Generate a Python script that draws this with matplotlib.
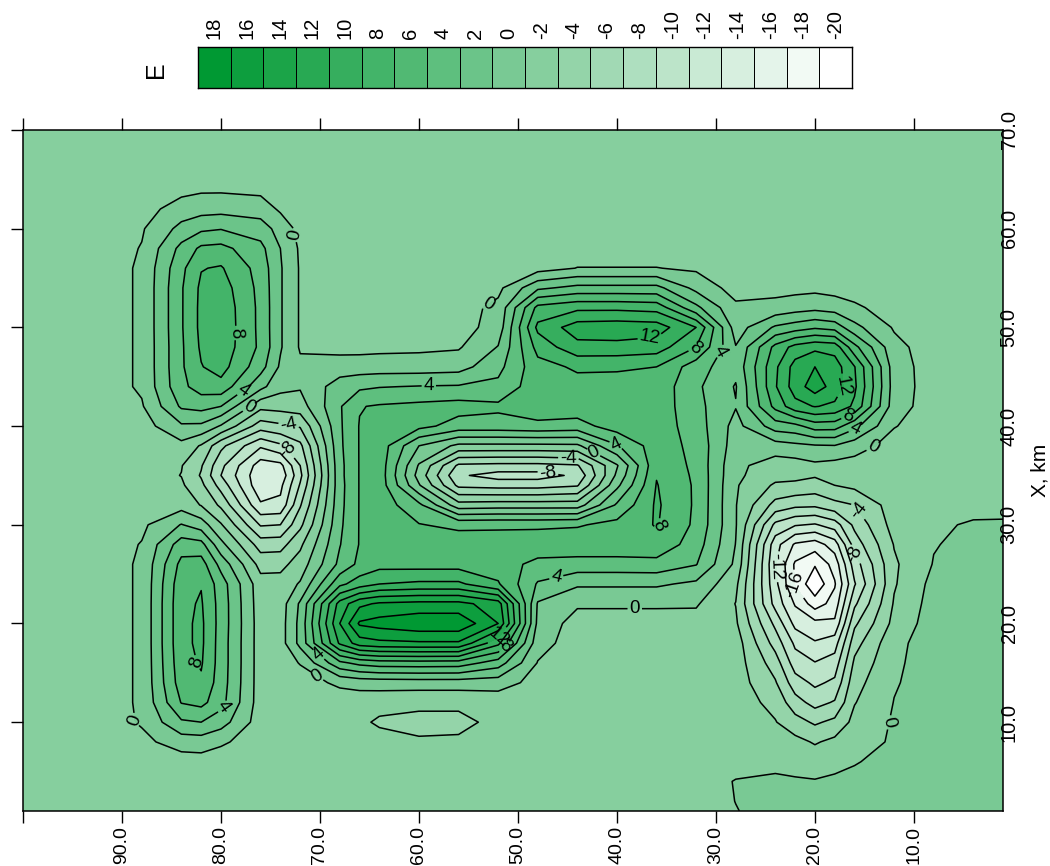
import matplotlib
matplotlib.use("Agg")
import matplotlib.pyplot as plt
import numpy as np
from matplotlib.colors import LinearSegmentedColormap

plt.rcParams['font.family'] = ['Liberation Sans', 'DejaVu Sans']

# grid positions, km
y_km = [100, 96, 92, 88, 84, 82, 80, 76, 72, 68, 64, 60, 56, 52, 48, 44, 40, 36, 32, 28, 24, 20, 16, 12, 8, 4, 1]
x_km = [70, 66, 64, 62, 60, 58, 56, 54, 52, 50, 48, 46, 44, 42, 40, 38, 36, 35, 34, 32, 30, 28, 26, 24, 22, 20, 18, 16, 14, 12, 10, 8, 6, 4, 2, 1]

# E values, one row per x_km, one column per y_km
e_grid = [
    [-1, -1, -1, -1, -1, -1, -1, -1, -1, -1, -1, -1, -1, -1, -1, -1, -1, -1, -1, -1, -1, -1, -1, -1, -1, -1, -1],
    [-1, -1, -1, -1, -1, -1, -1, -1, -1, -1, -1, -1, -1, -1, -1, -1, -1, -1, -1, -1, -1, -1, -1, -1, -1, -1, -1],
    [-1, -1, -1, -1, -.6, -.3, -.3, -.5, -1, -1, -1, -1, -1, -1, -1, -1, -1, -1, -1, -1, -1, -1, -1, -1, -1, -1, -1],
    [-1, -1, -1, -.8, .9, 1.2, 1.3, 1, -1, -1, -1, -1, -1, -1, -1, -1, -1, -1, -1, -1, -1, -1, -1, -1, -1, -1, -1],
    [-1, -1, -1, -.2, 2.6, 3.6, 3.9, 3, -.6, -1, -1, -1, -1, -1, -1, -1, -1, -1, -1, -1, -1, -1, -1, -1, -1, -1, -1],
    [-1, -1, -1, .1, 4.6, 6.4, 6.6, 4.6, -.3, -1, -1, -1, -1, -1, -1, -1, -1, -1, -1, -1, -1, -1, -1, -1, -1, -1, -1],
    [-1, -1, -1, .3, 5.5, 7.9, 8.2, 5.2, -.2, -1, -1, -1, -1, -1, -.8, .05, .05, .05, -.3, -1, -1, -1, -1, -1, -1, -1, -1],
    [-1, -1, -1, .3, 5.8, 8.4, 9, 5.4, -.2, -1, -1, -1, -.9, -.5, 3.6, 4.6, 4.6, 4.6, 1.4, -.8, -.6, -.5, -.8, -1, -1, -1, -1],
    [-1, -1, -1, .3, 5.8, 8.5, 9.4, 5.5, -.2, -1, -1, -.9, -.8, .5, 8.6, 9.5, 9.5, 9.2, 4.5, .4, .6, 1.4, .3, -.8, -1, -1, -1],
    [-1, -1, -1, .3, 5.8, 8.5, 9.5, 5.5, -.2, -1, -.9, -.9, -.8, .8, 10.5, 13, 13.2, 13, 10, 1, 4.3, 5.7, 2.6, -.2, -1, -1, -1],
    [-1, -1, -1, .3, 5.7, 8.3, 9.3, 5.6, -.2, -.6, -.5, -.4, -.2, 2.1, 8.7, 11.4, 11.4, 11, 8, 2.1, 8.6, 11.5, 6.6, .6, -1, -1, -1],
    [-1, -1, -1, .3, 5.7, 7.9, 8.8, 4.8, .4, .9, 1, 1, 1.2, 3.4, 7.3, 8.3, 8.2, 8, 4.9, 2.6, 9.6, 14, 10.1, 1, -1, -1, -1],
    [-1, -1, -1, .3, 5.5, 6.9, 7.3, 2.6, .2, 3, 3.9, 4.1, 4.2, 4.5, 7.2, 7.3, 7.4, 7.3, 4.4, 1.85, 9.8, 15, 10.4, 1.1, -1, -1, -1],
    [-1, -1, -1, -.2, 4.3, 4.7, 4, -1.4, -.9, 3.8, 6.2, 6.5, 6.8, 6.4, 7.2, 7.2, 7.2, 7.2, 4.6, 2.1, 8.6, 12.1, 9.6, .9, -1, -1, -1],
    [-1, -1, -1, -.9, 1.7, 1.6, -.2, -5, -3.8, 3.7, 7.2, 6.6, 5.2, 5.2, 5.5, 5.2, 7, 7.1, 5, 1.3, 5, 7, 4.6, .1, -1, -1, -1],
    [-1, -1, -1, -1, -.6, -2.2, -5.5, -9.7, -6.5, 3.6, 7.2, 2, -.5, -.5, -.5, -.4, 3.8, 7.1, 5.4, 1, 1.1, 1.8, .9, -.8, -1, -1, -1],
    [-1, -1, -1, -1, -1.9, -3.8, -7.5, -13, -8, 3.4, 7.2, -.2, -6.4, -6.6, -6.6, -6.2, -.2, 7.6, 5.5, .5, -1, -.4, -.8, -1, -1, -1, -1],
    [-1, -1, -1, -1, -2.05, -4.2, -8, -13.5, -8.5, 3.4, 7.2, -.8, -7.7, -8.8, -8.8, -7.6, .4, 7.9, 5.6, .4, -1.3, -1.8, -1.1, -1, -1, -1, -1],
    [-1, -1, -1, -1, -1.7, -3.5, -6.8, -13.5, -7.8, 3.3, 7.2, .2, -6.5, -6.8, -6.8, -6.2, 1.5, 8.1, 5.7, .2, -2.3, -2.8, -1.5, -1, -1, -1, -1],
    [-1, -1, -1, -1, -.8, -2.1, -4.4, -11.7, -6.2, 3.4, 7.2, 4.5, -1.2, -1, -1, -1, 4.3, 8.3, 5.7, .1, -4.7, -5.6, -4, -1, -1, -.6, -.5],
    [-1, -1, -1, -.4, 2.1, 1, -1.8, -8.2, -4.5, 3.6, 7.2, 6.1, 5.5, 5.6, 5.6, 5.8, 6.6, 8.15, 5.6, .15, -8.5, -10.2, -5.5, -1.2, -.3, .2, .2],
    [-1, -1, -1, .1, 5, 4.7, .6, -4.9, -2.4, 3.9, 7.2, 7.2, 7.2, 7.1, 7.3, 7.3, 7.3, 7.4, 5, -.05, -11.2, -15, -7.1, -1.9, -.1, .5, .6],
    [-1, -1, -1, .3, 6.6, 6.9, 3.3, -2.7, -1.1, 4.5, 7.3, 7.2, 7.2, 7, 5.4, 5.2, 5.2, 5.3, 4.1, -.4, -11.8, -17.8, -9, -2.3, .1, .7, .7],
    [-1, -1, -1, .3, 7.3, 7.9, 5, -1.2, .2, 7.5, 10, 10.4, 10.4, 8.2, 3.8, 2.3, 2.3, 2.3, 1.6, -1.5, -11.4, -19.6, -10.2, -2.2, .6, .7, .7],
    [-1, -1, -1, .3, 7.5, 8.2, 5.2, -1.1, 2.3, 12.8, 16.3, 16.6, 16.6, 15, 1.8, .3, .3, .3, .2, -2.05, -10.7, -17, -8.4, -1.8, .8, .7, .7],
    [-1, -1, -1, .3, 7.5, 8.4, 5.2, -1, 2.6, 14, 18.8, 19.5, 19.5, 16, 1.5, -.9, -.9, -.9, -.7, -1.7, -8.5, -13.4, -6.4, -1.4, 1, .7, .7],
    [-1, -1, -1, .3, 7.5, 8.4, 5.1, -1, 2.6, 12.3, 15.5, 15.7, 15.7, 10.5, .8, -1, -1, -1, -1, -1, -6.8, -11.8, -4.8, -.5, .9, .8, .7],
    [-1, -1, -1, .3, 7.3, 8.2, 5.1, -1, .1, 5.5, 7.1, 7.2, 7.1, 5, -.1, -1, -1, -1, -1, -1, -5, -9.9, -3.6, -.3, .8, .8, .7],
    [-1, -1, -1, .3, 7, 7.7, 5, -1, -.9, .4, .9, 1, 1, .9, -.7, -1, -1, -1, -1, -1, -3.8, -8.4, -2.7, -.15, .8, .8, .7],
    [-1, -1, -1, .3, 6.1, 6.6, 4.7, -1, -1, -1.1, -1.3, -1.6, -1.6, -1.2, -1, -1, -1, -1, -1, -1, -2.6, -6.7, -2.1, .05, .8, .8, .7],
    [-1, -1, -1, .2, 3.7, 4, 2.9, -1, -1, -1, -2.3, -2.5, -2.5, -1.5, -1, -1, -1, -1, -1, -1, -1.9, -4.3, -1.4, .2, .8, .8, .7],
    [-1, -1, -1, -.5, .9, 1, .3, -1, -1, -1, -1.2, -1.8, -1.7, -1.2, -1, -1, -1, -1, -1, -1, -1, -2.2, -1, .3, .8, .8, .7],
    [-1, -1, -1, -1, -.9, -.8, -1, -1, -1, -1, -1, -1, -1, -1, -1, -1, -1, -1, -1, -.8, -.3, -.8, -.1, .5, .8, .8, .7],
    [-1, -1, -1, -1, -1, -1, -1, -1, -1, -1, -1, -1, -1, -1, -1, -1, -1, -1, -1, .1, .2, .1, .4, .6, .8, .8, .7],
    [-1, -1, -1, -1, -1, -1, -1, -1, -1, -1, -1, -1, -1, -1, -1, -1, -1, -1, -.7, .02, .5, .5, .6, .7, .8, .8, .7],
    [-1, -1, -1, -1, -1, -1, -1, -1, -1, -1, -1, -1, -1, -1, -1, -1, -1, -1, -.7, -.05, .5, .5, .6, .7, .8, .8, .7],
]

# extra columns where the features are too narrow for the 4 km spacing, top row first
col_y74 = [-1, -1, -1, -.3, 1.2, 2, 2.2, 2.2, 2.2, 2.2, 2.2, 1.7, .6, -1.2, -4.4, -8.4, -12.6, -13.4, -12.5, -11.5, -8, -4.8, -2.6, -1.2, -1, -.9, -.9, -.9, -1, -1, -1, -1, -1, -1, -1, -1]
col_y66 = [-1, -1, -1, -1, -1, -1, -1, -1, -1, -.9, -.6, .95, 3.6, 5.9, 6.1, 6.1, 6.1, 6.1, 6.1, 6.1, 6.1, 6.1, 6.5, 9, 15.5, 18.3, 15, 6.6, .8, -1.2, -1.6, -1, -1, -1, -1, -1]
col_y22 = [-1, -1, -1, -1, -1, -1, -1, -.6, 1.1, 5, 10.7, 12.8, 13, 11.3, 5.4, 1.5, -.9, -1.5, -2.4, -5.5, -9.8, -14.3, -16.3, -16.2, -14.2, -12.6, -10.4, -9, -7.1, -5.2, -3.2, -1.4, -.5, .15, .5, .5]
col_y18 = [-1, -1, -1, -1, -1, -1, -1, -.7, 1, 5.2, 11.2, 13, 13.2, 11.6, 6.9, 1.9, -.7, -1, -2, -4.6, -9, -13, -15.2, -16.2, -15.2, -13.6, -10.9, -9.1, -7.6, -5.8, -3.5, -1.5, -.5, .3, .5, .5]

levels = list(range(-20, 22, 2))
cbar_labels = [18, 16, 14, 12, 10, 8, 6, 4, 2, 0, -2, -4, -6, -8, -10, -12, -14, -16, -18, -20]
y_ticks = [100, 90, 80, 70, 60, 50, 40, 30, 20, 10]
y_tick_labels = ['', '90.0', '80.0', '70.0', '60.0', '50.0', '40.0', '30.0', '20.0', '10.0']
x_ticks = [10, 20, 30, 40, 50, 60, 70]
x_tick_labels = ['10.0', '20.0', '30.0', '40.0', '50.0', '60.0', '70.0']

# where each contour label sits, in (y_km, x_km)
label_spots = {
    0: [(73.8, 59.1), (76.6, 41), (88.8, 10.2), (52.2, 51.1), (70.4, 14.5), (38.2, 21.4), (13.8, 37.2), (12.6, 10), (42.2, 37.6)],
    4: [(77, 42.5), (80.2, 11.8), (59, 43.8), (70, 17), (46.2, 25), (29.4, 47.5), (15.8, 39.5), (40.2, 37.8)],
    8: [(77.9, 49.4), (82.8, 16), (35.9, 30), (31.8, 47.3), (16.2, 40), (50.6, 16.8)],
    12: [(36.6, 48.2), (15.6, 44.2), (50.6, 17.6)],
    -4: [(73.2, 39.9), (44.9, 36.5), (16.2, 31)],
    -8: [(73, 37.8), (47, 35), (15.6, 27.2)],
    -12: [(23.4, 25.8)],
    -16: [(22, 23.9)],
}

# merge the extra columns in order
columns = {y: [row[i] for row in e_grid] for i, y in enumerate(y_km)}
columns.update({74: col_y74, 66: col_y66, 22: col_y22, 18: col_y18})
y_all = sorted(columns, reverse=True)
e_all = np.array([columns[y] for y in y_all]).T

fig = plt.figure(figsize=(10.5, 8.66), dpi=100)
W, H = 1050.0, 866.0
ax = fig.add_axes([23 / W, 1 - 811 / H, 980 / W, 681 / H])

cmap = LinearSegmentedColormap.from_list('wg', ['#ffffff', '#009933'], 20)
ax.contourf(y_all, x_km, e_all, levels=levels, cmap=cmap)
# clabel with a level subset breaks on one contour set, so labelled levels get their own
plain_levels = [v for v in levels[1:-1] if v not in label_spots]
ax.contour(y_all, x_km, e_all, levels=plain_levels, colors='black', linewidths=1.1, linestyles='solid')
for lev, pts in label_spots.items():
    cs = ax.contour(y_all, x_km, e_all, levels=[lev], colors='black', linewidths=1.1, linestyles='solid')
    ax.clabel(cs, manual=pts, inline=True, inline_spacing=2, fontsize=13.5, fmt='%d')

ax.set_xlim(100, 1)
ax.set_ylim(1, 70)

ax.set_xticks(y_ticks)
ax.set_xticklabels(y_tick_labels, rotation=90, fontsize=14)
ax.set_yticks(x_ticks)
ax.set_yticklabels(x_tick_labels, rotation=90, fontsize=14.5, va='center')
ax.tick_params(axis='x', top=True, bottom=True, length=8.6, width=1, pad=2)
ax.tick_params(axis='y', left=True, right=False, labelleft=False, labelright=True, length=8.6, width=1, pad=-11)
for s in ax.spines.values():
    s.set_linewidth(1.1)

fig.text(1040 / W, 1 - 470 / H, 'X, km', rotation=90, fontsize=15, ha='center', va='center')

# colour scale strip
cax = fig.add_axes([198 / W, 1 - 88 / H, 654 / W, 41 / H])
strip = [[v + 1 for v in cbar_labels]]
cax.pcolormesh(strip, cmap=cmap, vmin=-20, vmax=20, edgecolors='black', linewidth=0.5)
cax.set_xticks([i + 0.5 for i in range(len(cbar_labels))])
cax.set_xticklabels(cbar_labels, rotation=90, fontsize=14.5)
cax.xaxis.tick_top()
cax.set_yticks([])
cax.tick_params(axis='x', length=0, pad=6)
for s in cax.spines.values():
    s.set_linewidth(1)
fig.text(156 / W, 1 - 70 / H, 'E', rotation=90, fontsize=18, ha='center', va='center')

fig.savefig('out.png', dpi=100)
